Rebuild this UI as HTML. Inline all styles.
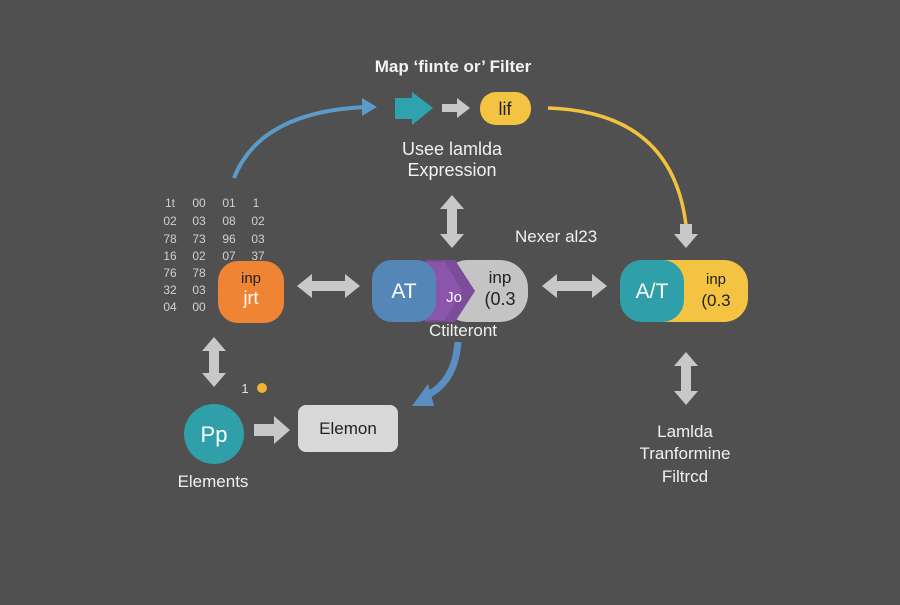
<!DOCTYPE html>
<html><head><meta charset="utf-8"><style>
body{margin:0;width:900px;height:600px;background:#505050;overflow:hidden;font-family:"Liberation Sans",sans-serif}
</style></head><body>
<svg width="900" height="600" xmlns="http://www.w3.org/2000/svg" font-family="Liberation Sans, sans-serif">
<rect width="900" height="600" fill="#505050"/>
<text x="453" y="72" fill="#f2f2f2" font-size="17" font-weight="600" text-anchor="middle">Map ‘fiınte or’ Filter</text>
<path d="M234 178 Q260 112 365 107" stroke="#5b9ac9" stroke-width="4" fill="none"/>
<polygon points="362,98 377,107 362,116" fill="#5b9ac9"/>
<polygon points="395,98 412,98 412,92 433,108 412,125 412,119 395,119" fill="#2fa3ad"/>
<polygon points="442,104 457,104 457,98 470,108 457,118 457,112 442,112" fill="#c8c8c8"/>
<rect x="480" y="92" width="51" height="33" rx="16" fill="#f5c342"/>
<text x="505" y="115" fill="#222" font-size="18" text-anchor="middle">lif</text>
<path d="M548 108 Q672 112 686 225" stroke="#f2c23e" stroke-width="3.5" fill="none"/>
<polygon points="680,224 692,224 692,234 698,234 686,248 674,234 680,234" fill="#c8c8c8"/>
<text x="452" y="155" fill="#f0f0f0" font-size="18" text-anchor="middle">Usee lamlda</text>
<text x="452" y="176" fill="#f0f0f0" font-size="18" text-anchor="middle">Expression</text>
<polygon points="452,195 464,209 457,209 457,234 464,234 452,248 440,234 447,234 447,209 440,209" fill="#c8c8c8"/>
<text x="515" y="242" fill="#f0f0f0" font-size="17">Nexer al23</text>
<g fill="#d0d0d0" font-size="12" text-anchor="middle">
<text x="170" y="207">1t</text><text x="199" y="207">00</text><text x="229" y="207">01</text><text x="256" y="207">1</text>
<text x="170" y="225">02</text><text x="199" y="225">03</text><text x="229" y="225">08</text><text x="258" y="225">02</text>
<text x="170" y="243">78</text><text x="199" y="243">73</text><text x="229" y="243">96</text><text x="258" y="243">03</text>
<text x="170" y="260">16</text><text x="199" y="260">02</text><text x="229" y="260">07</text><text x="258" y="260">37</text>
<text x="170" y="277">76</text><text x="199" y="277">78</text>
<text x="170" y="294">32</text><text x="199" y="294">03</text>
<text x="170" y="311">04</text><text x="199" y="311">00</text>
</g>
<rect x="218" y="261" width="66" height="62" rx="20" fill="#ef8534"/>
<text x="251" y="283" fill="#222" font-size="15" text-anchor="middle">inp</text>
<text x="251" y="304" fill="#fff" font-size="18" text-anchor="middle">jrt</text>
<polygon points="297,286 312,274 312,281 345,281 345,274 360,286 345,298 345,291 312,291 312,298" fill="#c8c8c8"/>
<rect x="440" y="260" width="88" height="62" rx="28" fill="#c4c4c4"/>
<polygon points="425,260 455,260 475,291 455,322 425,322" fill="#7b4c9c"/>
<polygon points="418,262 445,262 462,291 445,320 418,320" fill="#8a55aa"/>
<rect x="372" y="260" width="64" height="62" rx="20" fill="#5487b8"/>
<text x="404" y="298" fill="#fff" font-size="21" text-anchor="middle">AT</text>
<text x="454" y="302" fill="#fff" font-size="15" text-anchor="middle">Jo</text>
<text x="500" y="283" fill="#222" font-size="17" text-anchor="middle">inp</text>
<text x="500" y="305" fill="#222" font-size="18" text-anchor="middle">(0.3</text>
<text x="463" y="336" fill="#f0f0f0" font-size="17" text-anchor="middle">Ctilteront</text>
<polygon points="542,286 557,274 557,281 592,281 592,274 607,286 592,298 592,291 557,291 557,298" fill="#c8c8c8"/>
<rect x="640" y="260" width="108" height="62" rx="24" fill="#f5c342"/>
<rect x="620" y="260" width="64" height="62" rx="22" fill="#2fa0aa"/>
<text x="652" y="298" fill="#fff" font-size="21" text-anchor="middle">A/T</text>
<text x="716" y="284" fill="#222" font-size="15" text-anchor="middle">inp</text>
<text x="716" y="306" fill="#222" font-size="17" text-anchor="middle">(0.3</text>
<polygon points="686,352 698,366 691,366 691,391 698,391 686,405 674,391 681,391 681,366 674,366" fill="#c8c8c8"/>
<text x="685" y="437" fill="#f0f0f0" font-size="17" text-anchor="middle">Lamlda</text>
<text x="685" y="459" fill="#f0f0f0" font-size="17" text-anchor="middle">Tranformine</text>
<text x="685" y="482" fill="#f0f0f0" font-size="17" text-anchor="middle">Filtrcd</text>
<polygon points="214,337 226,351 219,351 219,373 226,373 214,387 202,373 209,373 209,351 202,351" fill="#c8c8c8"/>
<text x="245" y="393" fill="#e0e0e0" font-size="13" text-anchor="middle">1</text>
<circle cx="262" cy="388" r="5" fill="#f2b233"/>
<circle cx="214" cy="434" r="30" fill="#2fa0aa"/>
<text x="214" y="442" fill="#fff" font-size="22" text-anchor="middle">Pp</text>
<text x="213" y="487" fill="#f0f0f0" font-size="17" text-anchor="middle">Elements</text>
<polygon points="254,424 274,424 274,416 290,430 274,444 274,436 254,436" fill="#c8c8c8"/>
<rect x="298" y="405" width="100" height="47" rx="8" fill="#d8d8d8"/>
<text x="348" y="434" fill="#222" font-size="17" text-anchor="middle">Elemon</text>
<path d="M458 342 Q455 382 426 396" stroke="#5b8fc1" stroke-width="7" fill="none"/>
<polygon points="428,384 434,406 412,406" fill="#5b8fc1"/>
</svg>
</body></html>
